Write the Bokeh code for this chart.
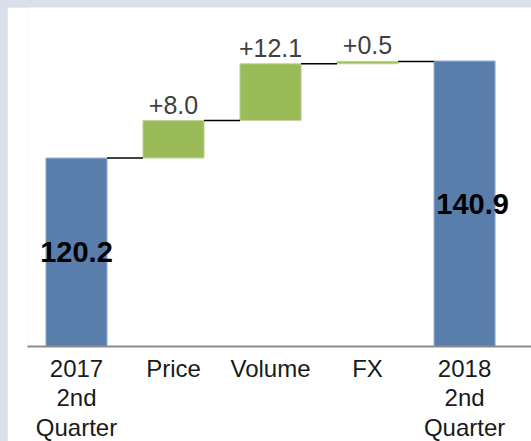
from bokeh.plotting import figure
from bokeh.models import Range1d, FixedTicker, ColumnDataSource
from bokeh.layouts import column
from bokeh.core.properties import value
from bokeh.embed import file_html
from bokeh.resources import INLINE

# ---- data ----
categories = ["2017\n2nd\nQuarter", "Price", "Volume", "FX", "2018\n2nd\nQuarter"]
start_total = 120.2
deltas = [8.0, 12.1, 0.5]
end_total = 140.9
delta_labels = ["+8.0", "+12.1", "+0.5"]
total_labels = ["120.2", "140.9"]
axis_floor = 80

# ---- derived geometry ----
BW = 0.63
xs = list(range(len(categories)))
levels = [start_total]
for d in deltas:
    levels.append(levels[-1] + d)

tot_x = [xs[0], xs[-1]]
tot_top = [start_total, end_total]
tot_bottom = [axis_floor, axis_floor]

d_x = xs[1:-1]
d_bottom = levels[:-1]
d_top = levels[1:]

con_x0 = [x + BW / 2 for x in xs[:-1]]
con_x1 = [x + 1 - BW / 2 for x in xs[:-1]]
con_y = levels[:]

p = figure(frame_width=504, frame_height=339, output_backend="svg", toolbar_location=None,
           x_range=Range1d(-0.505, 4.69), y_range=Range1d(axis_floor, 152.3),
           y_axis_location=None, min_border=0)
p.min_border_left = 20
p.min_border_top = 0
p.min_border_right = 0
p.outline_line_color = None
p.grid.visible = False
p.background_fill_color = "white"
p.border_fill_color = "white"

blue = "#5A7EAB"
green = "#9BBB59"

p.vbar(x=tot_x, top=tot_top, bottom=tot_bottom, width=BW,
       fill_color=blue, line_color="#9DB5D6", line_width=1)
p.vbar(x=d_x, top=d_top, bottom=d_bottom, width=BW,
       fill_color=green, line_color="#C0D69A", line_width=1)
p.segment(x0=con_x0, x1=con_x1, y0=con_y, y1=con_y, line_color="black", line_width=1.5)

p.text(x=d_x, y=d_top, text=delta_labels, text_align="center", text_baseline="bottom",
       y_offset=-7, text_font=value("Liberation Sans"), text_font_size="25px",
       text_color="#404040")

tot_mid = [(b + t) / 2 for b, t in zip(tot_bottom, tot_top)]
tot_xoff = [0, 8]
src = ColumnDataSource(dict(x=tot_x, y=tot_mid, t=total_labels, xo=tot_xoff))
p.text(x="x", y="y", text="t", x_offset="xo", source=src, text_align="center",
       text_baseline="middle", text_font=value("Liberation Sans"), text_font_size="29px",
       text_font_style="bold", text_color="black")

ax = p.xaxis[0]
ax.ticker = FixedTicker(ticks=xs)
ax.major_label_overrides = {x: c for x, c in zip(xs, categories)}
ax.major_tick_line_color = None
ax.minor_tick_line_color = None
ax.axis_line_color = "#8C8C8C"
ax.axis_line_width = 2
ax.major_label_standoff = 2
ax.major_label_text_font = "Liberation Sans"
ax.major_label_text_font_size = "24px"
ax.major_label_text_color = "#1A1A1A"
ax.major_label_text_line_height = 1.1

layout = column(p, styles={"background-color": "#DAE0EA", "padding": "7px 0 0 7px"})

open("out.html", "w").write(file_html(layout, INLINE))
